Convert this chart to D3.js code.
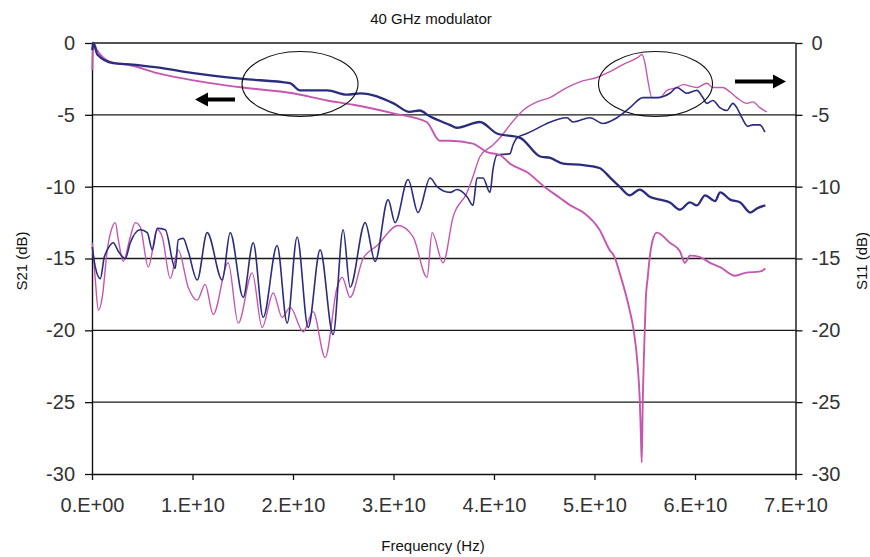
<!DOCTYPE html>
<html>
<head>
<meta charset="utf-8">
<script src="https://cdn.jsdelivr.net/npm/d3@7"></script>
<style>
  body { margin: 0; background: #fff; }
  svg { display: block; }
</style>
</head>
<body>
<svg width="870" height="557"></svg>
<script>
// Chart text.
const chartTitle = "40 GHz modulator";
const xTitle = "Frequency (Hz)";
const yLeftTitle = "S21 (dB)";
const yRightTitle = "S11 (dB)";

// Axis ticks (frequency in GHz, level in dB).
const xTicks = [0, 10, 20, 30, 40, 50, 60, 70];
const xTickLabels = ["0.E+00", "1.E+10", "2.E+10", "3.E+10", "4.E+10", "5.E+10", "6.E+10", "7.E+10"];
const yTicks = [0, -5, -10, -15, -20, -25, -30];

// Series: [frequency GHz, dB].
const s21Navy = [
  [0.03,-0.5],[0.13,0],[0.53,-0.8],[2.1,-1.4],[4.1,-1.5],[6.5,-1.7],[10.1,-2.1],[15.0,-2.5],
  [19.7,-2.8],[20.7,-3.3],[23.4,-3.3],[25.4,-3.6],[26.7,-3.5],[30.0,-4.2],[31.6,-4.8],[32.6,-4.7],
  [33.6,-5.1],[35.6,-5.7],[36.3,-5.9],[38.6,-5.5],[40.3,-6.3],[42.6,-6.6],[44.6,-7.9],[45.6,-8.0],
  [46.9,-8.4],[48.9,-8.5],[50.5,-8.7],[51.6,-9.4],[52.5,-10.0],[53.5,-10.6],[54.5,-10.2],[55.5,-10.7],
  [56.5,-10.9],[57.5,-11.1],[58.5,-11.6],[59.5,-11.1],[60.2,-11.3],[61.0,-10.6],[62.0,-11.0],
  [62.5,-10.4],[63.5,-10.9],[64.5,-11.1],[65.5,-11.8],[66.2,-11.5],[67.0,-11.3]
];
const s21Magenta = [
  [0.03,-1.9],[0.13,0],[0.5,-0.5],[1.1,-1.0],[2.3,-1.4],[3.5,-1.5],[6.5,-2.1],[10.1,-2.6],
  [15.0,-3.1],[20.0,-3.5],[23.4,-4.0],[26.0,-4.3],[30.0,-4.9],[33.3,-5.5],[34.6,-6.8],[35.6,-6.8],
  [37.9,-7.0],[39.3,-7.6],[40.6,-7.8],[41.6,-8.4],[43.3,-9.0],[45.0,-10.0],[46.6,-10.8],[47.6,-11.3],
  [48.9,-11.8],[50.5,-13.0],[51.5,-14.4],[52.0,-14.9],[52.5,-16.0],[53.5,-18.6],[53.9,-20.0],
  [54.3,-22.5],[54.5,-24.8],[54.6,-26.9],[54.7,-29.2],[54.8,-25.1],[55.0,-20.0],[55.1,-17.9],
  [55.3,-16.3],[55.5,-14.9],[55.8,-13.7],[56.2,-13.2],[57.5,-13.9],[58.5,-14.5],[59.0,-15.3],
  [59.5,-14.8],[60.5,-14.9],[61.5,-15.3],[62.5,-15.6],[64.0,-16.2],[65.0,-16.0],[66.5,-15.9],[67.0,-15.7]
];
const s11Navy = [
  [0.03,-14.2],[0.33,-15.6],[0.83,-16.4],[1.22,-14.9],[1.52,-14.4],[2.12,-13.9],[2.62,-14.5],
  [3.31,-15.0],[3.81,-13.9],[4.80,-13.0],[5.50,-13.2],[6.00,-14.4],[6.49,-12.9],[7.29,-13.0],
  [8.28,-15.7],[8.58,-13.7],[9.08,-13.6],[9.57,-14.5],[10.47,-16.5],[11.46,-13.2],[12.96,-16.5],
  [13.75,-13.2],[15.04,-17.7],[16.04,-13.9],[17.03,-19.1],[18.42,-14.1],[19.42,-19.5],[20.41,-13.5],
  [21.51,-19.8],[22.70,-14.4],[23.99,-20.3],[24.99,-13.0],[25.68,-17.0],[27.18,-12.5],[28.17,-15.2],
  [29.46,-10.9],[30.16,-12.5],[31.45,-9.5],[32.44,-11.8],[33.64,-9.4],[34.33,-10.0],[35.63,-10.4],
  [36.32,-10.2],[37.32,-10.7],[37.91,-11.3],[38.31,-9.4],[38.91,-9.4],[39.60,-10.4],[39.90,-8.8],
  [40.30,-7.8],[41.59,-7.7],[41.89,-7.1],[42.29,-6.6],[43.28,-6.3],[43.88,-6.1],[45.27,-5.6],
  [47.26,-5.2],[47.86,-5.5],[49.55,-5.2],[50.84,-5.6],[52.23,-5.2],[53.53,-4.5],[54.82,-3.8],
  [56.21,-3.8],[57.50,-3.5],[58.20,-3.1],[59.19,-3.5],[60.19,-3.3],[60.78,-3.8],[61.18,-4.2],
  [61.78,-4.0],[62.47,-4.5],[63.17,-4.7],[63.77,-4.2],[64.16,-4.5],[64.66,-5.2],[65.26,-5.8],
  [65.76,-5.7],[66.45,-5.7],[66.95,-6.2]
];
const s11Magenta = [
  [0.03,-13.9],[0.33,-16.5],[0.63,-18.6],[1.02,-17.7],[1.52,-14.4],[2.02,-12.8],[2.32,-12.5],
  [2.62,-13.7],[3.11,-15.2],[3.81,-13.5],[4.31,-12.5],[4.80,-12.8],[5.60,-15.6],[6.49,-13.0],
  [6.99,-13.5],[7.79,-16.4],[8.58,-14.4],[9.57,-17.0],[10.47,-17.9],[11.26,-16.8],[12.06,-18.9],
  [13.55,-15.3],[14.55,-19.5],[15.94,-16.0],[16.93,-19.8],[18.03,-17.4],[18.92,-19.1],[19.72,-18.4],
  [21.01,-20.1],[22.00,-18.7],[23.20,-21.9],[24.39,-17.0],[24.89,-16.3],[25.68,-17.7],[26.98,-15.0],
  [28.37,-14.1],[30.46,-12.7],[31.95,-13.5],[33.34,-16.3],[33.84,-13.2],[34.93,-15.3],[35.93,-12.1],
  [37.32,-10.4],[37.91,-9.3],[38.61,-7.9],[39.90,-7.1],[40.60,-6.6],[41.59,-5.7],[42.88,-4.7],
  [44.28,-4.1],[45.57,-3.8],[47.26,-3.1],[48.55,-2.7],[50.24,-2.4],[51.54,-2.0],[52.83,-1.5],
  [54.32,-1.0],[54.72,-0.8],[55.02,-1.4],[55.31,-2.6],[55.71,-3.8],[56.51,-3.8],[57.20,-3.3],
  [58.20,-3.1],[58.80,-2.9],[60.19,-3.1],[61.18,-2.8],[61.78,-3.1],[62.77,-3.1],[63.47,-3.4],
  [64.16,-3.8],[65.16,-4.2],[65.76,-4.1],[66.45,-4.5],[67.15,-4.8]
];

// Layout.
const svg = d3.select("svg");
const plotLeft = 92, plotRight = 795.5, plotTop = 43, plotBottom = 474;
const navy = "#2b2c7e";
const magenta = "#c657ae";
const tickFont = "'Liberation Sans', Arial, sans-serif";
const titleFont = "'Liberation Sans', Arial, sans-serif";

const x = d3.scaleLinear().domain([0, 70]).range([plotLeft, plotRight]);
const y = d3.scaleLinear().domain([-30, 0]).range([plotBottom, plotTop]);

// Horizontal gridlines.
svg.append("g")
  .selectAll("line")
  .data(yTicks.filter(d => d !== -30))
  .join("line")
  .attr("x1", plotLeft).attr("x2", plotRight)
  .attr("y1", d => y(d)).attr("y2", d => y(d))
  .attr("stroke", "#1a1a1a")
  .attr("stroke-width", 1.3);

// Axes.
let styleAxis = function (g) {
  g.selectAll("path.domain").attr("stroke", "#111").attr("stroke-width", 1.4);
  g.selectAll(".tick line").attr("stroke", "#111").attr("stroke-width", 1.3);
  g.selectAll("text")
    .attr("font-family", tickFont)
    .attr("font-size", 20)
    .attr("fill", "#333");
};

svg.append("g")
  .attr("transform", `translate(${plotLeft},0)`)
  .call(d3.axisLeft(y).tickValues(yTicks).tickFormat(d => String(d)).tickSize(7).tickSizeOuter(0).tickPadding(10))
  .call(styleAxis);

svg.append("g")
  .attr("transform", `translate(${plotRight},0)`)
  .call(d3.axisRight(y).tickValues(yTicks).tickFormat(d => String(d)).tickSize(7).tickSizeOuter(0).tickPadding(9))
  .call(styleAxis);

svg.append("g")
  .attr("transform", `translate(0,${plotBottom})`)
  .call(d3.axisBottom(x).tickValues(xTicks).tickFormat((d, i) => xTickLabels[i]).tickSize(6).tickSizeOuter(0).tickPadding(18))
  .call(styleAxis);

// Curves.
const line = d3.line()
  .x(d => x(d[0]))
  .y(d => y(d[1]))
  .curve(d3.curveMonotoneX);

const series = [
  { data: s11Magenta, color: magenta, width: 1.4 },
  { data: s11Navy, color: navy, width: 1.6 },
  { data: s21Magenta, color: magenta, width: 1.9 },
  { data: s21Navy, color: navy, width: 2.3 }
];

svg.append("g")
  .selectAll("path")
  .data(series)
  .join("path")
  .attr("d", d => line(d.data))
  .attr("fill", "none")
  .attr("stroke", d => d.color)
  .attr("stroke-width", d => d.width)
  .attr("stroke-linejoin", "round");

// Annotation ellipses.
const marks = svg.append("g").attr("fill", "none").attr("stroke", "#111").attr("stroke-width", 1.1);
marks.append("ellipse").attr("cx", 300).attr("cy", 84).attr("rx", 58).attr("ry", 32.5);
marks.append("ellipse").attr("cx", 655.5).attr("cy", 84).attr("rx", 57).attr("ry", 32.5);

// Arrows pointing at the axis that goes with each pair of curves.
let draw_arrow = function (x1, x2, yy) {
  let dir = Math.sign(x2 - x1);
  let head = 13;
  svg.append("line")
    .attr("x1", x1).attr("x2", x2 - dir * head + dir)
    .attr("y1", yy).attr("y2", yy)
    .attr("stroke", "#000")
    .attr("stroke-width", 4);
  svg.append("path")
    .attr("d", `M${x2},${yy} L${x2 - dir * head},${yy - 7} L${x2 - dir * head},${yy + 7} Z`)
    .attr("fill", "#000");
};
draw_arrow(235, 195, 99.5);
draw_arrow(735, 786, 81.5);

// Titles.
let add_title = function (txt, transform) {
  svg.append("text")
    .attr("transform", transform)
    .attr("text-anchor", "middle")
    .attr("font-family", titleFont)
    .attr("font-size", 15)
    .attr("fill", "#111")
    .text(txt);
};
add_title(chartTitle, "translate(431,24)");
add_title(xTitle, "translate(433,551)");
add_title(yLeftTitle, "translate(27,261) rotate(-90)");
add_title(yRightTitle, "translate(867,261) rotate(-90)");
</script>
</body>
</html>
